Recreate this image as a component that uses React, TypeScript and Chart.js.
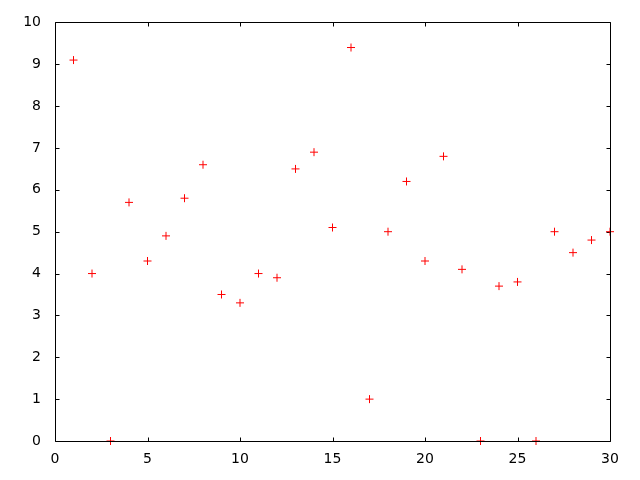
import React, { useEffect, useRef } from "react";
import { Chart, registerables } from "chart.js";

Chart.register(...registerables);

const xValues = [1, 2, 3, 4, 5, 6, 7, 8, 9, 10, 11, 12, 13, 14, 15, 16, 17, 18, 19, 20, 21, 22, 23, 24, 25, 26, 27, 28, 29, 30];
const yValues = [9.1, 4.0, 0, 5.7, 4.3, 4.9, 5.8, 6.6, 3.5, 3.3, 4.0, 3.9, 6.5, 6.9, 5.1, 9.4, 1.0, 5.0, 6.2, 4.3, 6.8, 4.1, 0, 3.7, 3.8, 0, 5.0, 4.5, 4.8, 5.0];
const xTicks = [0, 5, 10, 15, 20, 25, 30];
const yTicks = [0, 1, 2, 3, 4, 5, 6, 7, 8, 9, 10];

const FONT = "'DejaVu Sans', sans-serif";

function edges(chart: any) {
  const { left, right, top, bottom } = chart.chartArea;
  return {
    L: Math.round(left) + 0.5,
    R: Math.round(right) + 0.5,
    T: Math.round(top) + 0.5,
    B: Math.round(bottom) + 0.5,
  };
}

const framePlugin = {
  id: "frame",
  beforeDatasetsDraw(chart: any) {
    const { ctx } = chart;
    const xs = chart.scales.x;
    const ys = chart.scales.y;
    const tl = 4;
    const { L, R, T, B } = edges(chart);
    ctx.save();
    ctx.strokeStyle = "#000";
    ctx.lineWidth = 1;
    ctx.beginPath();
    for (const v of xTicks) {
      const px = Math.round(xs.getPixelForValue(v)) + 0.5;
      ctx.moveTo(px, B);
      ctx.lineTo(px, B - tl);
      ctx.moveTo(px, T);
      ctx.lineTo(px, T + tl);
    }
    for (const v of yTicks) {
      const py = Math.round(ys.getPixelForValue(v)) + 0.5;
      ctx.moveTo(L, py);
      ctx.lineTo(L + tl, py);
      ctx.moveTo(R, py);
      ctx.lineTo(R - tl, py);
    }
    ctx.stroke();
    ctx.restore();
  },
  afterDatasetsDraw(chart: any) {
    const { ctx } = chart;
    const { L, R, T, B } = edges(chart);
    ctx.save();
    ctx.strokeStyle = "#000";
    ctx.lineWidth = 1;
    ctx.beginPath();
    ctx.rect(L, T, R - L, B - T);
    ctx.stroke();
    ctx.restore();
  },
};

export default function App() {
  const ref = useRef<HTMLCanvasElement>(null);
  useEffect(() => {
    if (!ref.current) return;
    const chart = new Chart(ref.current, {
      type: "scatter",
      data: {
        datasets: [
          {
            data: xValues.map((x, i) => ({ x, y: yValues[i] })),
            pointStyle: "cross",
            radius: 4,
            borderColor: "#ff0000",
            backgroundColor: "#ff0000",
            borderWidth: 1,
            clip: false,
          },
        ],
      },
      options: {
        responsive: false,
        animation: false,
        events: [],
        layout: { padding: { left: 0, top: 20, right: 30, bottom: 0 } },
        plugins: { legend: { display: false }, tooltip: { enabled: false } },
        scales: {
          x: {
            type: "linear",
            min: 0,
            max: 30,
            afterBuildTicks: (s: any) => {
              s.ticks = xTicks.map((v) => ({ value: v }));
            },
            afterFit: (s: any) => {
              s.height = 39;
            },
            grid: { display: false, drawTicks: false },
            border: { display: false },
            ticks: { color: "#000", padding: 10, font: { family: FONT, size: 14 }, maxRotation: 0 },
          },
          y: {
            type: "linear",
            min: 0,
            max: 10,
            afterBuildTicks: (s: any) => {
              s.ticks = yTicks.map((v) => ({ value: v }));
            },
            afterFit: (s: any) => {
              s.width = 55;
            },
            grid: { display: false, drawTicks: false },
            border: { display: false },
            ticks: { color: "#000", padding: 14, font: { family: FONT, size: 14 } },
          },
        },
      },
      plugins: [framePlugin],
    });
    return () => chart.destroy();
  }, []);
  return (
    <div style={{ position: "fixed", left: 0, top: 0, width: 640, height: 480, background: "#fff" }}>
      <canvas ref={ref} width={640} height={480} style={{ width: 640, height: 480 }} />
    </div>
  );
}
